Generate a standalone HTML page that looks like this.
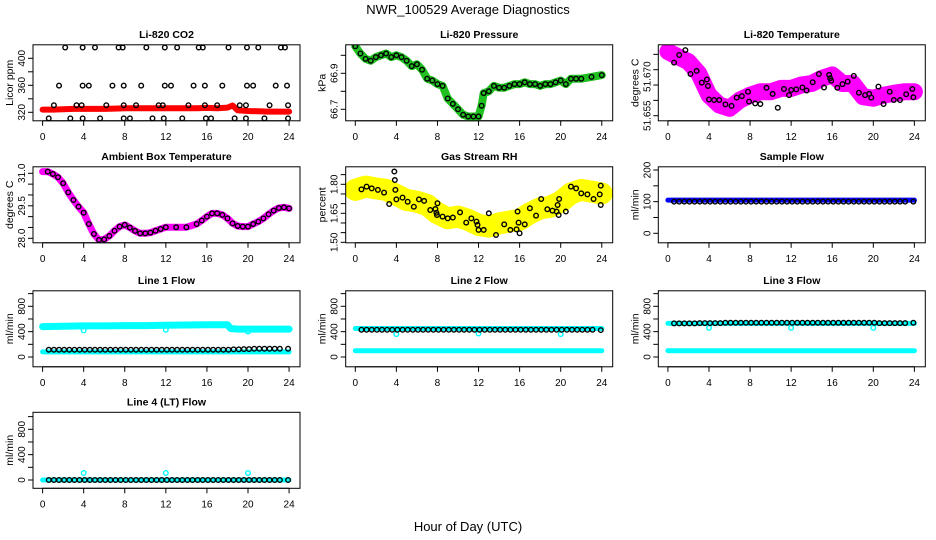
<!DOCTYPE html>
<html><head><meta charset="utf-8"><style>
html,body{margin:0;padding:0;background:#fff}
svg{display:block;font-family:"Liberation Sans",sans-serif}
</style></head><body>
<svg id="c" width="936" height="540" viewBox="0 0 936 540">
<text x="468" y="14" text-anchor="middle" font-size="13">NWR_100529  Average Diagnostics</text>
<text x="468" y="531" text-anchor="middle" font-size="13">Hour of Day (UTC)</text>
</svg>
<script>
// ---------- data ----------
const co2RedHours = [0,1,2,3,4,5,6,7,8,9,10,11,12,13,14,15,16,17,18,18.5,19,20,21,22,23,24];
const co2Red = [324,324,324.5,325,325,325,325,325.5,326,326,326,326,326,326,326,326,326.5,326,327,330,323,322,321.5,321,321,321];
const co2BlackHours = [2.2,3.9,5.1,7.4,7.8,10.1,11.9,13.1,15.2,15.6,18.1,19.9,21.0,23.2,23.6,
 1.6,3.9,4.5,6.8,7.9,9.6,11.9,12.5,14.7,15.8,17.5,19.9,20.5,22.7,23.8,
 1.1,3.3,3.8,6.2,7.9,9.1,11.3,11.7,14.2,15.8,17.0,19.2,19.8,22.1,23.9,
 0.6,2.7,3.9,5.6,7.9,8.5,10.7,11.8,13.6,15.9,16.4,18.7,19.8,21.6,23.9];
const co2Black = [416,416,416,416,416,416,416,416,416,416,416,416,416,416,416,
 359.5,359.5,359.5,359.5,359.5,359.5,359.5,359.5,359.5,359.5,359.5,359.5,359.5,359.5,359.5,
 330.4,330.4,330.4,330.4,330.4,330.4,330.4,330.4,330.4,330.4,330.4,330.4,330.4,330.4,330.4,
 311,311,311,311,311,311,311,311,311,311,311,311,311,311,311];

const presHours = [0,0.5,1,1.5,2,2.5,3,3.5,4,4.5,5,5.5,6,6.5,7,7.5,8,8.5,9,9.5,10,10.5,11,11.5,12,12.3,12.5,13,13.5,14,14.5,15,15.5,16,16.5,17,17.5,18,18.5,19,19.5,20,20.5,21,21.5,22,23,24];
const presVals = [67.05,67.01,66.98,66.97,66.99,67.00,67.01,66.99,67.00,66.99,66.97,66.94,66.95,66.92,66.87,66.86,66.84,66.83,66.76,66.73,66.70,66.67,66.66,66.66,66.66,66.72,66.79,66.80,66.83,66.82,66.82,66.83,66.84,66.84,66.85,66.84,66.84,66.83,66.84,66.84,66.85,66.86,66.84,66.87,66.87,66.87,66.88,66.89];

const ltPinkHours = [0,1,2,3,4,5,6,7,8,9,10,11,12,13,14,15,16,17,18,19,20,21,22,23,24];
const ltPink = [51.6759,51.6742,51.6726,51.6688,51.6617,51.6585,51.6574,51.6601,51.6617,51.6628,51.6628,51.6639,51.6639,51.6650,51.6655,51.6672,51.6683,51.6655,51.6655,51.6612,51.6607,51.6617,51.6623,51.6628,51.6628];
const ltBlackHours = [0.6,1.1,1.7,2.2,2.8,3.3,3.8,3.9,4,4.5,5,5.6,6.2,6.7,7.2,7.8,7.9,8.5,9,9.6,10.2,10.7,11.3,11.8,12,12.5,13.1,13.5,14.1,14.7,15.2,15.7,15.8,15.9,16.5,17,17.5,18.1,18.6,19.2,19.6,19.8,20.5,21,21.6,22,22.6,23.2,23.8,23.9];
const ltBlack = [51.6723,51.6748,51.6764,51.6686,51.6696,51.6658,51.6668,51.6647,51.6603,51.6601,51.6601,51.6587,51.6582,51.6609,51.6614,51.6628,51.6596,51.6590,51.6588,51.6641,51.6621,51.6576,51.6637,51.6617,51.6634,51.6636,51.6642,51.6632,51.6659,51.6686,51.6642,51.6683,51.6672,51.6664,51.6641,51.6653,51.6661,51.6680,51.6625,51.6617,51.6621,51.6609,51.6645,51.6588,51.6628,51.6601,51.6601,51.6620,51.6637,51.6610];

const ambHours = [0,0.5,1,1.5,2,2.5,3,3.5,4,4.5,5,5.5,6,6.5,7,7.5,8,8.5,9,9.5,10,10.5,11,11.5,12,13,14,15,15.5,16,16.5,17,17.5,18,18.5,19,19.5,20,20.5,21,21.5,22,22.5,23,23.5,24];
const ambVals = [31.08,31.08,30.97,30.82,30.54,30.12,29.77,29.46,29.18,28.66,28.20,27.92,27.95,28.11,28.35,28.54,28.62,28.49,28.34,28.23,28.23,28.26,28.35,28.43,28.51,28.51,28.51,28.66,28.82,29.00,29.15,29.15,29.08,28.92,28.69,28.57,28.54,28.54,28.66,28.77,28.92,29.11,29.28,29.40,29.43,29.38];

const rhYellowHours = [0,1,2,3,4,5,6,7,8,9,10,11,12,13,14,15,16,17,18,19,20,21,22,23,24];
const rhYellow = [1.771,1.788,1.779,1.771,1.745,1.719,1.710,1.693,1.650,1.624,1.633,1.616,1.590,1.581,1.598,1.607,1.616,1.650,1.676,1.684,1.710,1.753,1.771,1.762,1.753];
const rhBlackHours = [0.6,1.1,1.6,2.2,2.8,3.3,3.8,3.85,3.9,4.0,4.6,5.1,5.7,6.2,6.7,7.3,7.8,7.9,8.0,7.95,8.5,9,9.5,10.2,10.8,11.3,11.8,11.9,12,12.5,13,13.7,14.5,15.1,15.7,15.8,15.9,16,16.5,17,17.6,18.1,18.7,19.2,19.6,19.7,19.8,19.85,20.5,21,21.5,22,22.6,23.2,23.8,23.9,23.9];
const rhBlack = [1.774,1.788,1.779,1.771,1.757,1.698,1.866,1.822,1.771,1.722,1.731,1.710,1.684,1.722,1.714,1.667,1.672,1.653,1.702,1.641,1.633,1.624,1.628,1.655,1.602,1.624,1.607,1.590,1.564,1.564,1.650,1.538,1.593,1.564,1.567,1.659,1.602,1.547,1.593,1.676,1.638,1.724,1.671,1.664,1.659,1.693,1.641,1.724,1.659,1.788,1.779,1.753,1.748,1.724,1.748,1.693,1.793];

const bandHours = [0,2,4,6,8,10,12,14,16,18,18.3,19,20,22,24];
const sampleBlue = [105,105,105,105,105,105,105,105,105,105,105,105,105,105,105];
const line1Upper = [480,485,490,490,495,495,500,505,510,510,450,440,440,440,440];
const line1Lower = [80,80,80,80,80,80,80,80,80,80,80,80,80,80,80];
const line2Upper = [450,450,450,450,450,450,450,450,450,450,450,450,450,450,450];
const line2Lower = [100,100,100,100,100,100,100,100,100,100,100,100,100,100,100];
const line3Upper = [530,530,530,530,530,530,530,530,530,530,530,530,530,530,530];
const line3Lower = [100,100,100,100,100,100,100,100,100,100,100,100,100,100,100];
const line4Lower = [0,0,0,0,0,0,0,0,0,0,0,0,0,0,0];

const flowBlackHours = [0.6,1.1,1.6,2.1,2.6,3.1,3.6,4.1,4.6,5.1,5.6,6.1,6.6,7.1,7.6,8.1,8.6,9.1,9.6,10.1,10.6,11.1,11.6,12.1,12.6,13.1,13.6,14.1,14.6,15.1,15.6,16.1,16.6,17.1,17.6,18.1,18.6,19.1,19.6,20.1,20.6,21.1,21.6,22.1,22.6,23.1,23.9];
const sampleBlack = [100,100,100,100,100,100,100,100,100,100,100,100,100,100,100,100,100,100,100,100,100,100,100,100,100,100,100,100,100,100,100,100,100,100,100,100,100,100,100,100,100,100,100,100,100,100,100];
const line1Black = [115,115,115,115,115,115,115,115,115,115,115,115,115,115,115,115,115,115,115,115,115,115,115,115,115,115,115,115,115,115,115,115,115,115,115,115,120,120,125,125,130,130,130,130,130,130,130];
const line2Black = [430,430,430,430,430,430,430,430,430,430,430,430,430,430,430,430,430,430,430,430,430,430,430,430,430,430,430,430,430,430,430,430,430,430,430,430,430,430,430,430,430,430,430,430,430,430,425];
const line3Black = [530,530,530,530,530,535,535,535,535,535,540,540,540,540,540,540,540,540,540,540,540,540,540,540,540,540,540,540,540,540,540,540,540,540,540,540,540,540,540,540,535,535,535,535,535,535,540];
const line4Black = [0,0,0,0,0,0,0,0,0,0,0,0,0,0,0,0,0,0,0,0,0,0,0,0,0,0,0,0,0,0,0,0,0,0,0,0,0,0,0,0,0,0,0,0,0,0,0];
const outHours = [4,12,20];
const line1Out = [420,430,400];
const line2Out = [360,370,360];
const line3Out = [460,460,460];
const line4Out = [110,110,110];

// ---------- drawing ----------
const svg = document.getElementById('c');
const NS = 'http://www.w3.org/2000/svg';
function el(tag, attrs, parent){const e=document.createElementNS(NS,tag);for(const k in attrs)e.setAttribute(k,attrs[k]);(parent||svg).appendChild(e);return e;}

const colLeft=[33,345.7,658.3], rowTop=[44.8,166.8,290.8,412.3], W=267, H=76;
function panel(cfg){
  const L=colLeft[cfg.col], T=rowTop[cfg.row], B=T+H;
  const g=el('g',{});
  
  
  const xs=h=>L+9.6+h*10.27;
  const ys=v=>cfg.p1+(v-cfg.v1)*(cfg.p2-cfg.p1)/(cfg.v2-cfg.v1);
  const t=el('text',{x:L+W/2,y:T-7,'text-anchor':'middle','font-size':10.5,'font-weight':'bold'},g);
  t.textContent=cfg.title;
  
  
  [0,4,8,12,16,20,24].forEach(h=>{
    el('line',{x1:xs(h),x2:xs(h),y1:B,y2:B+5,stroke:'#000'},g);
    const tx=el('text',{x:xs(h),y:B+19,'text-anchor':'middle','font-size':10},g);
    tx.textContent=h;
    
    
  });
  el('line',{x1:xs(0),x2:xs(24),y1:B,y2:B,stroke:'#000'},g);
  cfg.ticks.forEach(v=>{el('line',{x1:L-5,x2:L,y1:ys(v),y2:ys(v),stroke:'#000'},g);});
  cfg.labels.forEach((v,i)=>{
    const y=ys(v), x=L-8;
    const tx=el('text',{x:x,y:y,'text-anchor':'middle','font-size':10,transform:`rotate(-90 ${x} ${y})`},g);
    tx.textContent=cfg.labelText[i];
    
    
  });
  const yl=el('text',{x:L-20,y:T+H/2,'text-anchor':'middle','font-size':10.5,transform:`rotate(-90 ${L-20} ${T+H/2})`},g);
  yl.textContent=cfg.ylab;
  
  
  const clip='cp'+cfg.name;
  const cp=el('clipPath',{id:clip},g); el('rect',{x:L,y:T,width:W,height:H},cp);
  const pg=el('g',{'clip-path':`url(#${clip})`},g);
  (cfg.bands||[]).forEach(b=>{
    const pts=b.hours.map((h,i)=>xs(h).toFixed(1)+','+ys(b.vals[i]).toFixed(1)).join(' ');
    const pl=el('polyline',{points:pts,fill:'none',stroke:b.color,'stroke-width':b.width,'stroke-linejoin':'round','stroke-linecap':'round'},pg);
    
    
  });
  (cfg.points||[]).forEach(s=>{
    s.hours.forEach((h,i)=>{
      const c=el('circle',{cx:xs(h),cy:ys(s.vals[i]),r:2.3,fill:'none',stroke:s.color,'stroke-width':1.4},pg);
      
      
    });
  });
  const box=el('rect',{x:L,y:T,width:W,height:H,fill:'none',stroke:'#000'},g);
  
  
}
const flowTicks=[0,200,400,600,800,1000];
panel({name:'co2-panel',title:'Li-820 CO2',ylab:'Licor ppm',col:0,row:0,v1:320,p1:112.3,v2:400,p2:58.3,
 ticks:[320,340,360,380,400],labels:[320,360,400],labelText:['320','360','400'],
 bands:[{name:'co2-band',hours:co2RedHours,vals:co2Red,color:'#f00',width:6}],
 points:[{name:'co2-point',hours:co2BlackHours,vals:co2Black,color:'#000'}]});
panel({name:'pressure-panel',title:'Li-820 Pressure',ylab:'kPa',col:1,row:0,v1:66.7,p1:109.3,v2:66.9,p2:73.3,
 ticks:[66.7,66.8,66.9,67.0],labels:[66.7,66.9],labelText:['66.7','66.9'],
 bands:[{name:'pressure-band',hours:presHours,vals:presVals,color:'#1fc01f',width:8}],
 points:[{name:'pressure-point',hours:presHours,vals:presVals,color:'#000'}]});
panel({name:'li820-temperature-panel',title:'Li-820 Temperature',ylab:'degrees C',col:2,row:0,v1:51.655,p1:115.7,v2:51.670,p2:69.7,
 ticks:[51.655,51.660,51.665,51.670,51.675],labels:[51.655,51.665,51.670],labelText:['51.655','51.','670'],
 bands:[{name:'li820-temp-band',hours:ltPinkHours,vals:ltPink,color:'#f0f',width:17}],
 points:[{name:'li820-temp-point',hours:ltBlackHours,vals:ltBlack,color:'#000'}]});
panel({name:'ambient-temperature-panel',title:'Ambient Box Temperature',ylab:'degrees C',col:0,row:1,v1:28.0,p1:238.3,v2:31.0,p2:173.3,
 ticks:[28,28.5,29,29.5,30,30.5,31],labels:[28,29.5,31],labelText:['28.0','29.5','31.0'],
 bands:[{name:'ambient-band',hours:ambHours,vals:ambVals,color:'#f0f',width:7}],
 points:[{name:'ambient-point',hours:ambHours.slice(1),vals:ambVals.slice(1),color:'#000'}]});
panel({name:'gas-rh-panel',title:'Gas Stream RH',ylab:'percent',col:1,row:1,v1:1.50,p1:242.3,v2:1.80,p2:184.3,
 ticks:[1.5,1.55,1.6,1.65,1.7,1.75,1.8,1.85],labels:[1.5,1.65,1.8],labelText:['1.50','1.65','1.80'],
 bands:[{name:'rh-band',hours:rhYellowHours,vals:rhYellow,color:'#ff0',width:22}],
 points:[{name:'rh-point',hours:rhBlackHours,vals:rhBlack,color:'#000'}]});
panel({name:'sample-flow-panel',title:'Sample Flow',ylab:'ml/min',col:2,row:1,v1:0,p1:233.3,v2:200,p2:170,
 ticks:[0,50,100,150,200],labels:[0,100,200],labelText:['0','100','200'],
 bands:[{name:'sample-flow-band',hours:bandHours,vals:sampleBlue,color:'#00f',width:5}],
 points:[{name:'sample-flow-point',hours:flowBlackHours,vals:sampleBlack,color:'#000'}]});
const flowRow=(row,p0,p8)=>({v1:0,p1:p0,v2:800,p2:p8,ticks:flowTicks,labels:[0,400,800],labelText:['0','400','800'],ylab:'ml/min',row:row});
panel(Object.assign(flowRow(2,357,306.3),{name:'line1-flow-panel',title:'Line 1 Flow',col:0,
 bands:[{name:'line1-upper-band',hours:bandHours,vals:line1Upper,color:'#0ff',width:7},{name:'line1-lower-band',hours:bandHours,vals:line1Lower,color:'#0ff',width:5}],
 points:[{name:'line1-outlier',hours:outHours,vals:line1Out,color:'#0ff'},{name:'line1-point',hours:flowBlackHours,vals:line1Black,color:'#000'}]}));
panel(Object.assign(flowRow(2,357,306.3),{name:'line2-flow-panel',title:'Line 2 Flow',col:1,
 bands:[{name:'line2-upper-band',hours:bandHours,vals:line2Upper,color:'#0ff',width:5},{name:'line2-lower-band',hours:bandHours,vals:line2Lower,color:'#0ff',width:5}],
 points:[{name:'line2-outlier',hours:outHours,vals:line2Out,color:'#0ff'},{name:'line2-point',hours:flowBlackHours,vals:line2Black,color:'#000'}]}));
panel(Object.assign(flowRow(2,357,306.3),{name:'line3-flow-panel',title:'Line 3 Flow',col:2,
 bands:[{name:'line3-upper-band',hours:bandHours,vals:line3Upper,color:'#0ff',width:5},{name:'line3-lower-band',hours:bandHours,vals:line3Lower,color:'#0ff',width:5}],
 points:[{name:'line3-outlier',hours:outHours,vals:line3Out,color:'#0ff'},{name:'line3-point',hours:flowBlackHours,vals:line3Black,color:'#000'}]}));
panel(Object.assign(flowRow(3,480,429.3),{name:'line4-flow-panel',title:'Line 4 (LT) Flow',col:0,
 bands:[{name:'line4-band',hours:bandHours,vals:line4Lower,color:'#0ff',width:5}],
 points:[{name:'line4-outlier',hours:outHours,vals:line4Out,color:'#0ff'},{name:'line4-point',hours:flowBlackHours,vals:line4Black,color:'#000'}]}));
</script>
</body></html>
